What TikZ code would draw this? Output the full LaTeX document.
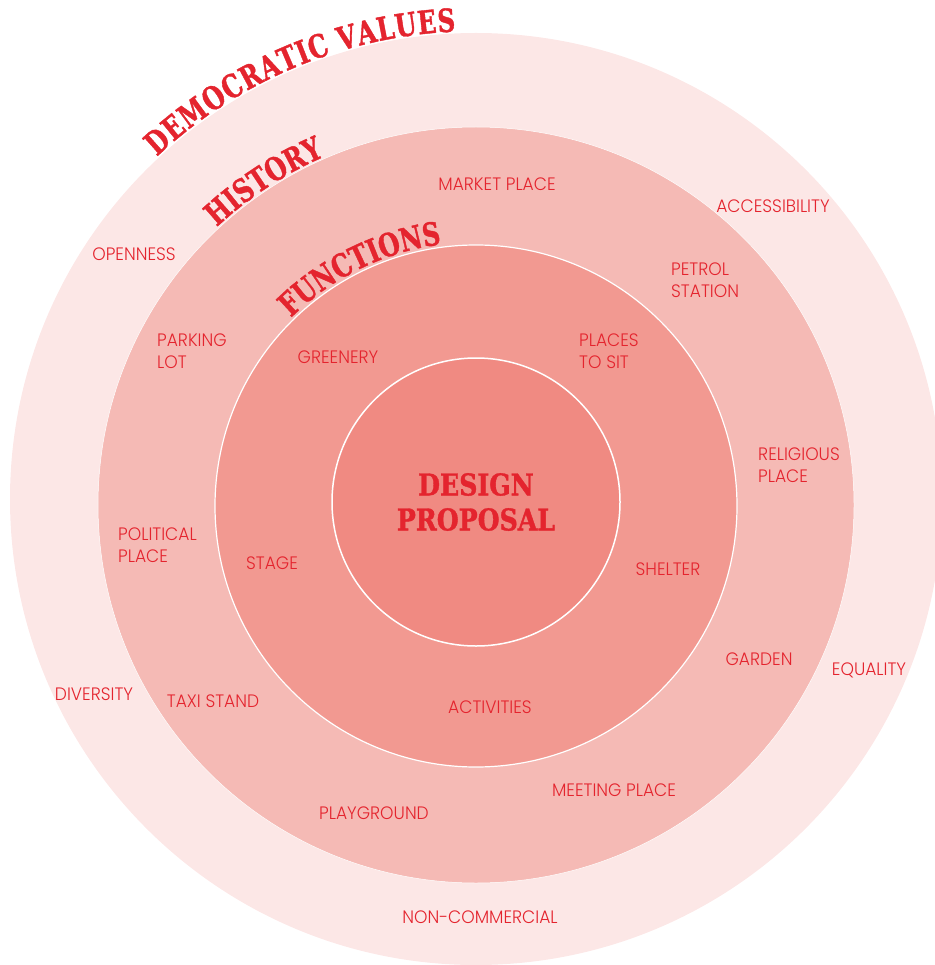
\documentclass[tikz,border=0pt]{standalone}
\usepackage{fontspec}
\usepackage{tikz}
\usetikzlibrary{decorations.text}
\newfontfamily\labelfont{Poppins Light}[FakeStretch=0.95]
\newfontfamily\titlefont{DejaVu Serif}[FakeStretch=0.84, BoldFeatures={FakeBold=1.2}]
\newfontfamily\arcfont{DejaVu Serif}[FakeStretch=0.76, BoldFeatures={FakeBold=1.2}]
\definecolor{ringa}{RGB}{252,231,230}
\definecolor{ringb}{RGB}{245,186,181}
\definecolor{ringc}{RGB}{242,153,145}
\definecolor{ringd}{RGB}{240,138,130}
\definecolor{dred}{RGB}{228,36,46}
\newcommand*{\arctitle}{|\arcfont\bfseries\fontsize{32}{32}\selectfont\color{dred}|}

\begin{document}
\begin{tikzpicture}[x=1pt, y=-1pt,
  lbl/.style={font=\labelfont\fontsize{18}{22}\selectfont, text=dred, inner sep=0pt, align=left},
  title/.style={font=\titlefont\bfseries\fontsize{30}{35}\selectfont, text=dred, inner sep=0pt, align=center},
  arctext/.style={decorate, decoration={text along path, text align={fit to path}, text={#1}}}]
\useasboundingbox (0,0) rectangle (934,965);
\coordinate (outerc) at (476,499);
\coordinate (histc) at (476,505);
\coordinate (funcc) at (476,506);
\coordinate (corec) at (476,502);
% rings
\fill[ringa] (outerc) circle[radius=466];
\filldraw[fill=ringb, draw=white, line width=0.5pt] (histc) circle[radius=378];
\filldraw[fill=ringc, draw=white, line width=1.2pt] (funcc) circle[radius=261];
\filldraw[fill=ringd, draw=white, line width=1.5pt] (corec) circle[radius=144];
% ring titles
\path[arctext={\arctitle DEMOCRATIC VALUES}] (outerc) ++(-133:468) arc[start angle=-133, end angle=-92.5, radius=468];
\path[arctext={\arctitle HISTORY}] (histc) ++(-133:380) arc[start angle=-133, end angle=-113.5, radius=380];
\path[arctext={\arctitle FUNCTIONS}] (funcc) ++(-134.5:264) arc[start angle=-134.5, end angle=-97.5, radius=264];
\node[title] (design) at (476,502) {DESIGN\\PROPOSAL};
% labels
\node[lbl] (market) at (497,184) {MARKET PLACE};
\node[lbl] (access) at (773,206) {ACCESSIBILITY};
\node[lbl, anchor=west] (petrol) at (671,280) {PETROL\\STATION};
\node[lbl] (open) at (134,254) {OPENNESS};
\node[lbl, anchor=west] (parking) at (157,351) {PARKING\\LOT};
\node[lbl] (green) at (338,357) {GREENERY};
\node[lbl, anchor=west] (sit) at (579,351) {PLACES\\TO SIT};
\node[lbl, anchor=west] (relig) at (758,465) {RELIGIOUS\\PLACE};
\node[lbl, anchor=west] (polit) at (118,545) {POLITICAL\\PLACE};
\node[lbl] (stage) at (272,563) {STAGE};
\node[lbl] (shelter) at (668,569) {SHELTER};
\node[lbl] (garden) at (759,659) {GARDEN};
\node[lbl] (equal) at (869,670) {EQUALITY};
\node[lbl] (divers) at (94,694) {DIVERSITY};
\node[lbl] (taxi) at (213,701) {TAXI STAND};
\node[lbl] (activ) at (490,707) {ACTIVITIES};
\node[lbl] (meet) at (614,790) {MEETING PLACE};
\node[lbl] (play) at (374,813) {PLAYGROUND};
\node[lbl] (noncom) at (480,917) {NON-COMMERCIAL};
\end{tikzpicture}
\end{document}
